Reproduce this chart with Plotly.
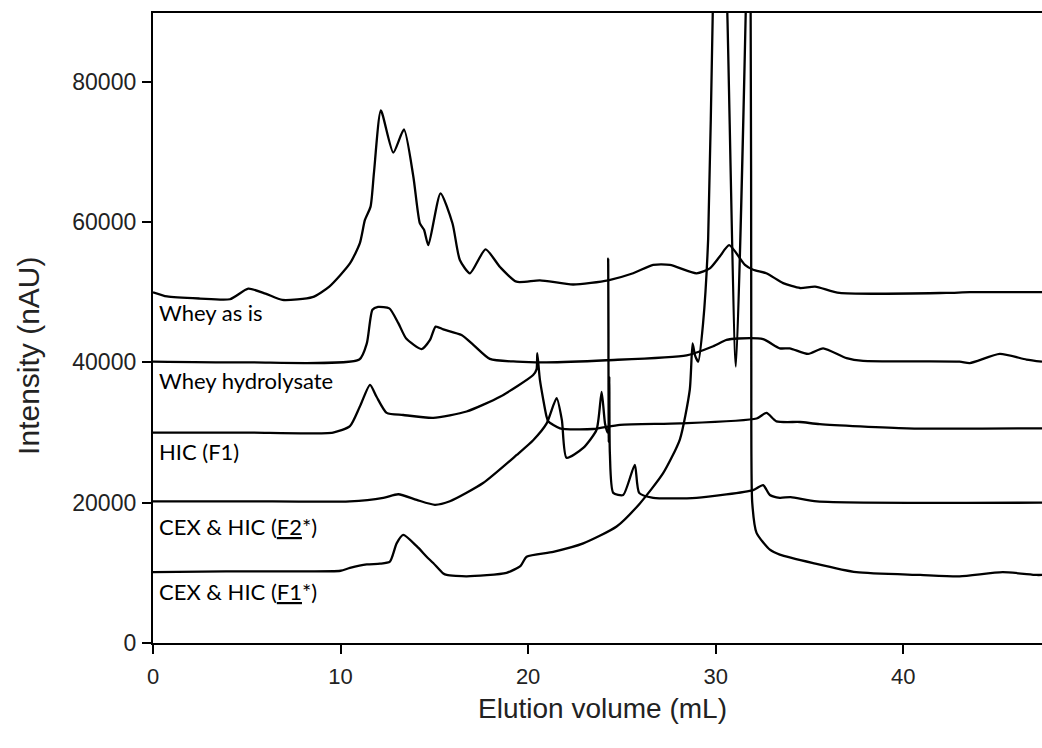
import plotly.graph_objects as go

# ---- data ----
whey_x = [0, 0.75, 2.5, 4.1, 5.08, 6.0, 6.9, 8.5, 9.4, 10.5, 11.03, 11.3, 11.6, 11.78, 12.15, 12.81,
          13.38, 13.88, 14.23, 14.45, 14.68, 15.33, 15.97, 16.36, 16.9, 17.73, 18.5, 19.38, 20.63,
          22.4, 24.27, 25.6, 26.67, 27.56, 28.98, 29.69, 30.22, 30.72, 31.56, 32.0, 32.7, 33.6,
          34.5, 35.3, 36.6, 42.3, 43.55, 47.4]
whey_y = [50000, 49400, 49100, 49000, 50500, 49800, 48900, 49300, 50800, 54100, 57000, 60300, 62200,
          67000, 75900, 69900, 73200, 66500, 59800, 58900, 56700, 64100, 59800, 54600, 52700, 56100,
          53600, 51500, 51700, 51100, 51700, 52700, 53900, 53900, 52700, 53400, 55100, 56700, 53900,
          53200, 52700, 51300, 50600, 50800, 49900, 49900, 50000, 50000]

hydro_x = [0, 5, 11.0, 11.4, 11.7, 12.0, 12.6, 13.08, 13.5, 14.32, 14.77, 15.07, 15.48, 16.45, 17.08,
           17.96, 19.4, 20.98, 24.18, 28.45, 29.87, 30.58, 31.2, 32.53, 33.42, 33.95, 34.93, 35.73,
           36.98, 37.86, 43.0, 43.55, 45.15, 46.57, 47.4]
hydro_y = [40100, 40000, 40400, 42700, 47500, 47900, 47700, 45600, 43400, 41900, 43200, 45100, 44700,
           43900, 42500, 40500, 40100, 40000, 40300, 41000, 42300, 43200, 43400, 43300, 42000, 42000,
           41200, 42000, 40600, 40200, 40100, 39900, 41200, 40400, 40100]

hic_x = [0, 5, 9.6, 10.5, 11.03, 11.57, 11.92, 12.46, 13.34, 14.94, 16.72, 18.5, 20.27, 20.45, 20.49,
         20.63, 20.98, 21.07, 21.7, 23.47, 24.9, 28.1, 32.18, 32.71, 33.24, 34.5, 35.55, 40.2, 47.4]
hic_y = [30000, 30000, 30000, 30900, 33700, 36800, 35100, 32800, 32500, 32100, 33000, 35100, 38200,
         39000, 41300, 37500, 32300, 31600, 30600, 30500, 31100, 31300, 32000, 32800, 31600, 31500,
         31200, 30600, 30600]

f2_x = [0, 5, 10.5, 12.28, 13.08, 14.06, 15.03, 15.83, 17.6, 19.39, 20.27, 20.99, 21.52, 21.8, 22.05,
        22.94, 23.65, 23.92, 24.1, 24.24, 24.27, 24.30, 24.33, 24.36, 24.54, 25.07, 25.69, 25.92,
        26.67, 28.98, 32.0, 32.53, 32.89, 33.42, 34.0, 35.4, 47.4]
f2_y = [20200, 20200, 20200, 20700, 21200, 20400, 19700, 20200, 22800, 26800, 28900, 31300, 34900,
        31800, 26400, 27800, 30400, 35800, 31300, 30000, 54800, 28600, 38000, 27000, 21400, 21100,
        25400, 21400, 20700, 20700, 21800, 22500, 21100, 20700, 20800, 20200, 20000]

f1_x = [0, 3.9, 7.83, 10.0, 10.5, 11.4, 12.1, 12.63, 12.99, 13.34, 14.06, 14.59, 14.94, 15.48, 15.66,
        16.72, 18.85, 19.6, 19.92, 21.34, 22.94, 24.72, 25.96, 27.2, 28.09, 28.62, 28.77, 28.9,
        29.07, 29.33, 29.6, 29.85, 30.2, 30.62, 31.08, 31.62, 31.72, 31.86, 31.9, 31.95, 32.18,
        32.89, 33.42, 35.2, 37.5, 40.9, 43.0, 45.3, 47.1, 47.4]
f1_y = [10100, 10200, 10200, 10300, 10700, 11200, 11300, 11600, 14200, 15400, 13800, 12300, 11400,
        9900, 9700, 9500, 10000, 11000, 12300, 13000, 14200, 16600, 19900, 24200, 29000, 36100,
        42700, 41000, 40100, 45600, 57600, 90500, 130000, 90000, 39400, 92000, 110000, 95000, 40000,
        20000, 15700, 13300, 12600, 11400, 10100, 9700, 9500, 10100, 9700, 9700]

trace_names = ["Whey as is", "Whey hydrolysate", "HIC (F1)", "CEX & HIC (F2*)", "CEX & HIC (F1*)"]
label_texts = ["Whey as is", "Whey hydrolysate", "HIC (F1)",
               "CEX &amp; HIC (<u>F2</u>*)", "CEX &amp; HIC (<u>F1</u>*)"]
label_y = [47100, 37400, 27300, 16600, 7300]

x_ticks = [0, 10, 20, 30, 40]
y_ticks = [0, 20000, 40000, 60000, 80000]

series = [(whey_x, whey_y), (hydro_x, hydro_y), (hic_x, hic_y), (f2_x, f2_y), (f1_x, f1_y)]

fig = go.Figure()
for (xs, ys), name in zip(series, trace_names):
    fig.add_trace(go.Scatter(x=xs, y=ys, mode="lines", name=name,
                             line=dict(color="black", width=2.3, shape="spline", smoothing=0.6),
                             showlegend=False))

for txt, yv in zip(label_texts, label_y):
    fig.add_annotation(x=0.22, y=yv, xref="x", yref="y", text=txt, showarrow=False,
                       xanchor="left", yanchor="middle",
                       font=dict(family="Lato", size=22, color="black"))

fig.add_annotation(x=0.506, y=-0.104, xref="paper", yref="paper", text="Elution volume (mL)",
                   showarrow=False, xanchor="center", yanchor="middle",
                   font=dict(family="Liberation Sans", size=28, color="#222"))
fig.add_annotation(x=-0.14, y=0.455, xref="paper", yref="paper", text="Intensity (nAU)",
                   showarrow=False, xanchor="center", yanchor="middle", textangle=-90,
                   font=dict(family="Liberation Sans", size=30, color="#222"))

fig.update_layout(
    width=1042, height=748,
    margin=dict(l=153, r=0, t=13, b=105),
    paper_bgcolor="white", plot_bgcolor="white",
    xaxis=dict(range=[0, 47.4], tickvals=x_ticks, ticktext=[str(v) for v in x_ticks],
               ticks="outside", ticklen=9, tickwidth=2,
               tickcolor="black", showline=True, linecolor="black", linewidth=2.3, mirror=True,
               showgrid=False, zeroline=False, ticklabelstandoff=3,
               tickfont=dict(family="Liberation Sans", size=22, color="#222")),
    yaxis=dict(range=[0, 89800], tickvals=y_ticks, ticktext=[str(v) for v in y_ticks],
               ticks="outside", ticklen=9, tickwidth=2,
               tickcolor="black", showline=True, linecolor="black", linewidth=2.3,
               showgrid=False, zeroline=False, ticklabelstandoff=1,
               tickfont=dict(family="Liberation Sans", size=23, color="#222")),
)

fig.write_html("out.html")
